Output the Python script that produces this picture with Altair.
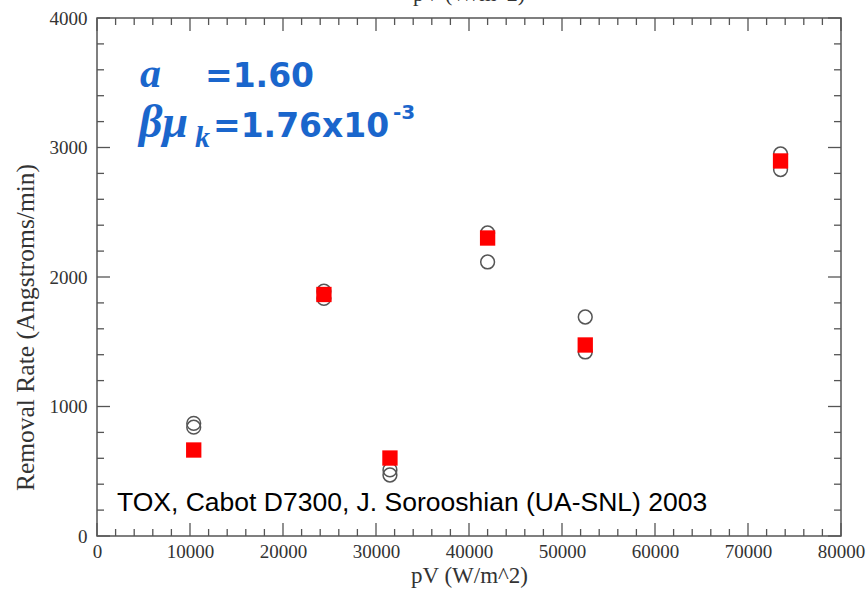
import altair as alt
import pandas as pd

# ---- data ----
model_pv = [10400, 24400, 31500, 42000, 52500, 73500]
model_rate = [664, 1865, 602, 2301, 1475, 2896]
meas_pv = [10400, 10400, 24400, 24400, 31500, 31500, 42000, 42000, 52500, 52500, 73500, 73500]
meas_rate = [870, 840, 1890, 1835, 510, 471, 2340, 2116, 1691, 1421, 2950, 2830]

x_major = [0, 10000, 20000, 30000, 40000, 50000, 60000, 70000, 80000]
x_minor = [v for v in range(0, 80001, 2000) if v % 10000 != 0]
y_major = [0, 1000, 2000, 3000, 4000]
y_minor = [v for v in range(0, 4001, 200) if v % 1000 != 0]

x_title = "pV (W/m^2)"
y_title = "Removal Rate (Angstroms/min)"
note_text = "TOX, Cabot D7300, J. Sorooshian (UA-SNL) 2003"
line1_sym, line1_val = "a", "=1.60"
line2_sym, line2_sub, line2_val, line2_sup = "\u03b2\u03bc", "k", "=1.76x10", "-3"

W, H = 744, 518
SERIF = "Liberation Serif"
SANS = "Liberation Sans"
BLUE = "#1a66cc"
FRAME = "#555555"
TXT = "#333333"

xs = alt.Scale(domain=[0, 80000], nice=False, zero=False)
ys = alt.Scale(domain=[0, 4000], nice=False, zero=False)

x_axis = alt.Axis(values=x_major, ticks=False, domain=False, grid=False, format="d",
                  labelFont=SERIF, labelFontSize=19, labelColor=TXT, labelPadding=6,
                  labelFlush=False, labelOverlap=False,
                  title=x_title, titleFont=SERIF, titleFontSize=23, titleFontWeight="normal",
                  titleColor=TXT, titlePadding=3)
y_axis = alt.Axis(values=y_major, ticks=False, domain=False, grid=False, format="d",
                  labelFont=SERIF, labelFontSize=19, labelColor=TXT, labelPadding=10,
                  labelFlush=False, labelOverlap=False,
                  title=y_title, titleFont=SERIF, titleFontSize=25.5, titleFontWeight="normal",
                  titleColor=TXT, titlePadding=11, titleY=309)

meas_df = pd.DataFrame({"pV": meas_pv, "rate": meas_rate})
model_df = pd.DataFrame({"pV": model_pv, "rate": model_rate})

circles = alt.Chart(meas_df).mark_point(
    shape="circle", filled=False, size=190, stroke=FRAME, strokeWidth=1.5, opacity=1
).encode(x=alt.X("pV:Q", scale=xs, axis=x_axis), y=alt.Y("rate:Q", scale=ys, axis=y_axis))

squares = alt.Chart(model_df).mark_square(color="#ff0000", size=235, opacity=1).encode(
    x=alt.X("pV:Q", scale=xs), y=alt.Y("rate:Q", scale=ys))

def xticks(vals, length):
    d = pd.DataFrame({"pV": vals})
    b = alt.Chart(d).mark_rule(color=FRAME, strokeWidth=1.3).encode(
        x=alt.X("pV:Q", scale=xs), y=alt.value(H), y2=alt.value(H - length))
    t = alt.Chart(d).mark_rule(color=FRAME, strokeWidth=1.3).encode(
        x=alt.X("pV:Q", scale=xs), y=alt.value(0), y2=alt.value(length))
    return [b, t]

def yticks(vals, length):
    d = pd.DataFrame({"rate": vals})
    l = alt.Chart(d).mark_rule(color=FRAME, strokeWidth=1.3).encode(
        y=alt.Y("rate:Q", scale=ys), x=alt.value(0), x2=alt.value(length))
    r = alt.Chart(d).mark_rule(color=FRAME, strokeWidth=1.3).encode(
        y=alt.Y("rate:Q", scale=ys), x=alt.value(W), x2=alt.value(W - length))
    return [l, r]

tick_layers = xticks(x_major, 13) + xticks(x_minor, 7) + yticks(y_major, 13) + yticks(y_minor, 7)

one = pd.DataFrame({"k": [0]})

def label(text, x, y, font, size, color, weight="normal", style="normal"):
    return alt.Chart(one).mark_text(
        text=text, font=font, fontSize=size, color=color, fontWeight=weight,
        fontStyle=style, align="left", baseline="alphabetic"
    ).encode(x=alt.value(x), y=alt.value(y))

texts = [
    label(line1_sym, 43, 69, SERIF, 42, BLUE, weight="bold", style="italic"),
    label(line1_val, 108, 69, "DejaVu Sans", 33, BLUE, weight="bold"),
    label(line2_sym, 42, 119, SERIF, 46, BLUE, weight="bold", style="italic"),
    label(line2_sub, 98, 129, SERIF, 30, BLUE, weight="bold", style="italic"),
    label(line2_val, 116, 119, "DejaVu Sans", 33, BLUE, weight="bold"),
    label(line2_sup, 296, 101, "DejaVu Sans", 20, BLUE, weight="bold"),
    label(note_text, 20, 493, SANS, 26.5, "#000000"),
    alt.Chart(one).mark_text(text=x_title, font=SERIF, fontSize=22, color=TXT,
                             align="center", baseline="alphabetic").encode(
        x=alt.value(W / 2), y=alt.value(-17)),
]

chart = alt.layer(circles, *tick_layers, squares, *texts).properties(
    width=W, height=H,
    autosize=alt.AutoSizeParams(type="none"),
    padding={"left": 97, "top": 18, "right": 27, "bottom": 57},
    background="white",
).configure_view(stroke=FRAME, strokeWidth=1.5)

chart.save("out.html", embed_options={"renderer": "svg", "actions": False})
